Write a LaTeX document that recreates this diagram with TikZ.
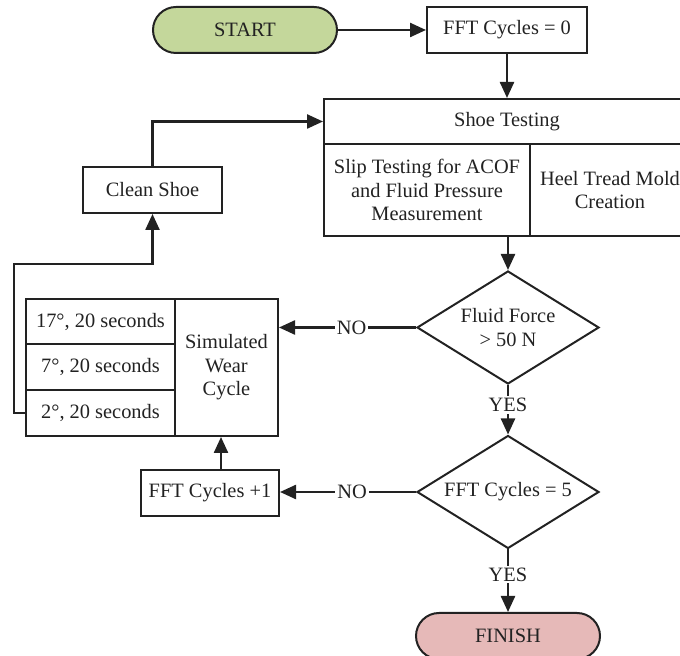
\documentclass[tikz,border=0pt]{standalone}
\usepackage{fontspec}
\setmainfont{Liberation Serif}
\usetikzlibrary{shapes.geometric,arrows.meta}
\definecolor{ink}{HTML}{222222}
\definecolor{startfill}{HTML}{C4D79B}
\definecolor{finishfill}{HTML}{E6B9B8}

\begin{document}
\begin{tikzpicture}[x=0.5pt,y=-0.5pt,
  font=\fontsize{10.2}{11.8}\selectfont, text=ink,
  box/.style={draw=ink, line width=1pt, rectangle, inner sep=0pt, align=center},
  term/.style={box, rounded corners=11.5pt, minimum width=92pt, minimum height=23pt},
  dia/.style={draw=ink, line width=1pt, shape=diamond, shape aspect=1.61,
              inner sep=0pt, align=center,
              minimum width=91pt, minimum height=56.5pt},
  arr/.style={draw=ink, line width=1.2pt, -{Triangle[length=8pt,width=7pt]}},
  lbl/.style={fill=white, inner sep=1pt, text=ink}
]
\useasboundingbox (0,0) rectangle (680,656);

% terminals
\node[term, fill=startfill] (start) at (245,30) {START};
\node[term, fill=finishfill] (finish) at (508,636) {FINISH};

% counter boxes
\node[box, minimum width=80pt, minimum height=23pt] (fft0) at (507,30) {FFT Cycles = 0};
\node[box, minimum width=69pt, minimum height=23pt] (fftp) at (210,493) {FFT Cycles +1};
\node[box, minimum width=69.5pt, minimum height=23pt] (clean) at (152.5,190) {Clean Shoe};

% shoe testing block
\node[box, minimum width=183pt, minimum height=22.5pt] (head) at (507,121.5) {Shoe Testing};
\node[box, minimum width=103pt, minimum height=46pt] (slip) at (427,190)
  {Slip Testing for ACOF\\and Fluid Pressure\\Measurement};
\node[box, minimum width=80pt, minimum height=46pt] (heel) at (610,190)
  {Heel Tread Mold\\Creation};

% simulated wear cycle block
\node[box, minimum width=74.5pt, minimum height=22.5pt] (r1) at (100.5,321.5) {17°, 20 seconds};
\node[box, minimum width=74.5pt, minimum height=23pt] (r2) at (100.5,367) {7°, 20 seconds};
\node[box, minimum width=74.5pt, minimum height=23pt] (r3) at (100.5,413) {2°, 20 seconds};
\node[box, minimum width=51.5pt, minimum height=68.5pt] (sim) at (226.5,367.5)
  {Simulated\\Wear\\Cycle};

% decisions
\node[dia] (d1) at (508,327.5) {Fluid Force\\> 50 N};
\node[dia] (d2) at (508,492) {FFT Cycles = 5};

% connectors
\draw[arr] (start) -- (fft0);
\draw[arr] (fft0.south) -- (fft0.south |- head.north);
\draw[arr] (d1.north |- slip.south) -- (d1.north);
\draw[arr] (d1.west) -- node[lbl, pos=0.47] {NO} (d1.west -| sim.east);
\draw[arr] (d1.south) -- node[lbl, pos=0.4] {YES} (d2.north);
\draw[arr] (d2.south) -- node[lbl, pos=0.4] {YES} (finish.north);
\draw[arr] (d2.west) -- node[lbl, pos=0.47] {NO} (d2.west -| fftp.east);
\draw[arr] ([xshift=5.5pt]fftp.north) -- ([xshift=5.5pt]fftp.north |- sim.south);

\coordinate (loop) at (14,264);
\draw[arr] (r3.west) -| (loop) -| (clean.south);
\draw[arr] (clean.north) |- (head.west);
\end{tikzpicture}
\end{document}
